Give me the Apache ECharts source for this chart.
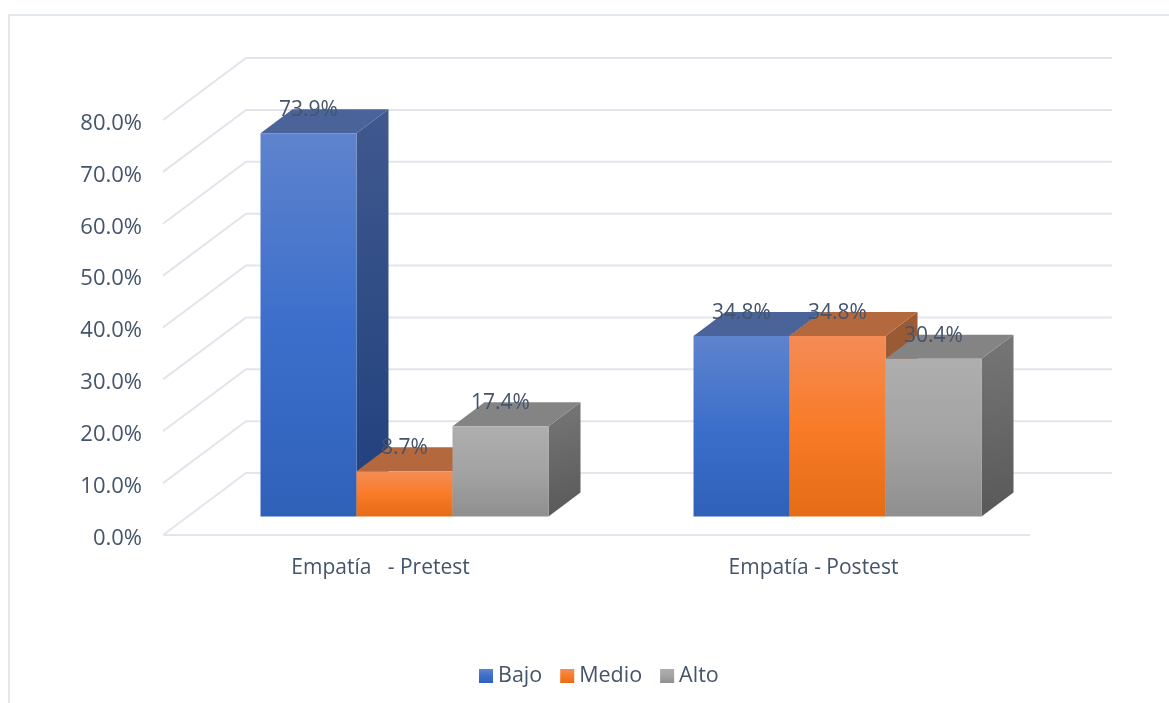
<!DOCTYPE html>
<html><head><meta charset="utf-8">
<style>html,body{margin:0;padding:0;background:#fff}#c{width:1169px;height:703px}</style>
<script src="https://cdn.jsdelivr.net/npm/echarts@6/dist/echarts.min.js"></script>
</head><body><div id="c"></div>
<script>
const categories = ['Empatía   - Pretest', 'Empatía - Postest'];
const bajo = [73.9, 34.8];
const medio = [8.7, 34.8];
const alto = [17.4, 30.4];
const wallTicks = [0, 10, 20, 30, 40, 50, 60, 70, 80];
const seriesNames = ['Bajo', 'Medio', 'Alto'];

const TXT = '#44546A', LINE = '#E2E5EC', FONT = '"Open Sans", sans-serif';
const grad = (a, b, c) => ({type:'linear',x:0,y:0,x2:0,y2:1,colorStops:[{offset:0,color:a},{offset:.5,color:b},{offset:1,color:c}]});
const looks = [
  {front:grad('#5F83CE','#3C6FCB','#2F61B9'), top:'#4A6399', side:{type:'linear',x:0,y:0,x2:0,y2:1,colorStops:[{offset:0,color:'#40598F'},{offset:1,color:'#1F3F7C'}]}},
  {front:grad('#F48C56','#F97B27','#E56C16'), top:'#B4683E', side:'#9A5A33'},
  {front:grad('#AEAEAE','#A3A3A3','#8F8F8F'), top:'#848484', side:{type:'linear',x:0,y:0,x2:1,y2:1,colorStops:[{offset:0,color:'#777'},{offset:1,color:'#585858'}]}}
];
// depth of the chart box and of the bars, in pixels
const WALL_DX = 83, WALL_DY = -62, BAR_DX = 24, BAR_DY = -18.5, DEPTH_DX = 32, DEPTH_DY = -24, BAR_RATIO = 96 / 433;

function wallItem(params, api) {
  const v = api.value(1), cs = params.coordSys, y = api.coord([0, v])[1];
  const pts = [[cs.x - 1, y], [cs.x + WALL_DX - 1, y + WALL_DY], [cs.x + cs.width + WALL_DX - 1, y + WALL_DY]];
  const st = {stroke: LINE, lineWidth: 2, fill: null};
  const kids = [{type:'polyline', shape:{points:pts}, style:st}];
  if (v === 0) kids.push({type:'line', shape:{x1:cs.x - 1, y1:y, x2:cs.x + cs.width, y2:y}, style:st});
  return {type:'group', children:kids};
}
function barItem(idx) {
  return function (params, api) {
    const v = api.value(1), c = api.coord([api.value(0), v]), base = api.coord([api.value(0), 0]);
    const w = api.size([1, 0])[0] * BAR_RATIO;
    const x0 = c[0] + BAR_DX + (idx - 1.5) * w, x1 = x0 + w;
    const yT = c[1] + BAR_DY, yB = base[1] + BAR_DY;
    const L = looks[idx];
    return {type:'group', children:[
      {type:'polygon', shape:{points:[[x1,yT],[x1+DEPTH_DX,yT+DEPTH_DY],[x1+DEPTH_DX,yB+DEPTH_DY],[x1,yB]]}, style:{fill:L.side}},
      {type:'polygon', shape:{points:[[x0,yT],[x0+DEPTH_DX,yT+DEPTH_DY],[x1+DEPTH_DX,yT+DEPTH_DY],[x1,yT]]}, style:{fill:L.top}},
      {type:'rect', shape:{x:x0,y:yT,width:w,height:yB-yT}, style:{fill:L.front}},
      {type:'text', z2:100, x:(x0+x1)/2, y:yT+DEPTH_DY+1, style:{text:v.toFixed(1)+'%', fill:TXT, font:'21px '+FONT, align:'center', verticalAlign:'middle'}}
    ]};
  };
}
const values = [bajo, medio, alto];
const chart = echarts.init(document.getElementById('c'), null, {renderer:'canvas'});
chart.setOption({
  animation:false,
  backgroundColor:'#fff',
  graphic:[
    {type:'polyline', silent:true, shape:{points:[[9,703],[9,15],[1169,15]]}, style:{stroke:'#E3E7EE', lineWidth:2, fill:null}}
  ],
  grid:{left:164, top:120, width:866, height:415, containLabel:false},
  xAxis:{type:'category', data:categories, axisLine:{show:false}, axisTick:{show:false}, splitLine:{show:false},
    axisLabel:{color:TXT, fontFamily:FONT, fontSize:21, margin:23}},
  yAxis:{type:'value', min:0, max:80, interval:10, axisLine:{show:false}, axisTick:{show:false}, splitLine:{show:false},
    axisLabel:{margin:22, formatter:v=>'{t|'+v.toFixed(1)+'%}',
      rich:{t:{color:TXT, fontFamily:FONT, fontSize:22, padding:[7,0,0,0]}}}},
  legend:{left:479, top:665, padding:0, itemWidth:14, itemHeight:14, itemGap:18, icon:'rect', data:seriesNames,
    textStyle:{color:TXT, fontFamily:FONT, fontSize:21.5, padding:[2,0,0,0]}},
  series:[
    {type:'custom', name:'_walls', silent:true, renderItem:wallItem, encode:{x:0,y:1}, data:wallTicks.map(t=>[0,t]), z:1},
    ...seriesNames.map((n,i)=>({type:'custom', name:n, renderItem:barItem(i), encode:{x:0,y:1},
      itemStyle:{color:looks[i].front}, data:values[i].map((v,k)=>[k,v]), z:2}))
  ]
});
</script></body></html>
